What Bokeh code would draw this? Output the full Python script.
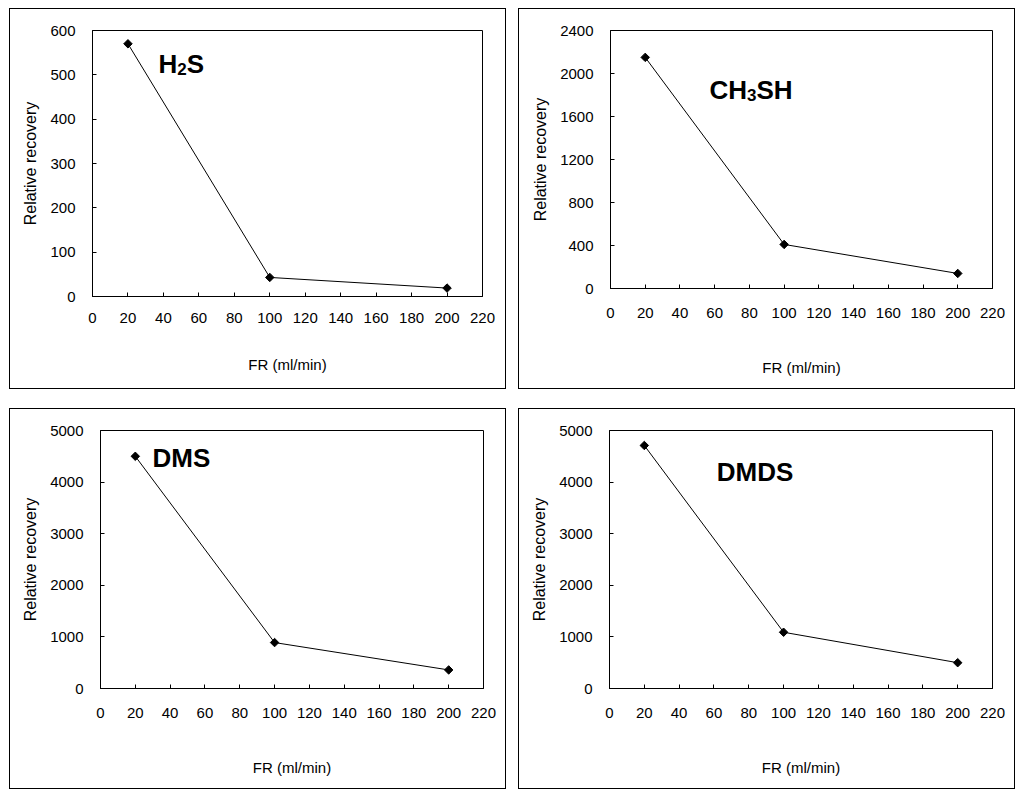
import math
from bokeh.plotting import figure
from bokeh.models import Range1d, FixedTicker, Label, Spacer
from bokeh.layouts import row, column
from bokeh.embed import file_html
from bokeh.resources import INLINE

# ---- data ----
fr = [20, 100, 200]
h2s = [570, 43, 19]
ch3sh = [2150, 410, 140]
dms = [4500, 890, 360]
dmds = [4710, 1090, 500]

x_ticks = list(range(0, 221, 20))
y_ticks_h2s = list(range(0, 601, 100))
y_ticks_ch3sh = list(range(0, 2401, 400))
y_ticks_dms = list(range(0, 5001, 1000))

x_label = "FR (ml/min)"
y_label = "Relative recovery"

FONT = "Liberation Sans"


def make_panel(values, yticks, parts, anchor, borders, xstand):
    bl, br, bt, bb = borders
    p = figure(width=495, height=379, output_backend="svg", toolbar_location=None,
               x_range=Range1d(0, 220), y_range=Range1d(0, yticks[-1]),
               min_border_left=bl, min_border_right=br,
               min_border_top=bt, min_border_bottom=bb)
    p.styles = {"outline": "1.5px solid black", "outline-offset": "0px"}
    p.xgrid.visible = False
    p.ygrid.visible = False
    p.outline_line_color = "black"
    p.outline_line_width = 1
    p.outline_line_alpha = 1
    for ax in (p.xaxis[0], p.yaxis[0]):
        ax.axis_line_color = "black"
        ax.major_tick_line_color = "black"
        ax.major_tick_in = 4
        ax.major_tick_out = 0
        ax.minor_tick_line_color = None
        ax.major_label_text_font = FONT
        ax.major_label_text_font_size = "15px"
        ax.major_label_text_color = "black"
        ax.axis_label_text_font = FONT
        ax.axis_label_text_font_style = "normal"
        ax.axis_label_text_color = "black"
    p.xaxis[0].axis_label_text_font_size = "15px"
    p.yaxis[0].axis_label_text_font_size = "16px"
    p.xaxis[0].ticker = FixedTicker(ticks=x_ticks)
    p.yaxis[0].ticker = FixedTicker(ticks=yticks)
    p.xaxis[0].axis_label = x_label
    p.yaxis[0].axis_label = y_label
    p.xaxis[0].major_label_standoff = xstand[0]
    p.yaxis[0].major_label_standoff = 17
    p.xaxis[0].axis_label_standoff = xstand[1]
    p.yaxis[0].axis_label_standoff = 8

    p.line(fr, values, line_color="black", line_width=1)
    p.scatter(fr, values, marker="square", angle=math.pi / 4, size=6,
              fill_color="black", line_color="black")

    ax_, ay_ = anchor
    base = 9
    off = 0.0
    for txt, sub in parts:
        if sub:
            lab = Label(x=ax_, y=ay_, x_offset=off, y_offset=base - 5, text=txt,
                        text_font=FONT, text_font_size="17px", text_font_style="bold",
                        text_color="black", text_baseline="alphabetic", text_align="left")
            off += 0.556 * 17
        else:
            lab = Label(x=ax_, y=ay_, x_offset=off, y_offset=base, text=txt,
                        text_font=FONT, text_font_size="26px", text_font_style="bold",
                        text_color="black", text_baseline="alphabetic", text_align="left")
            w = sum({"H": 0.722, "S": 0.667, "C": 0.722, "D": 0.722, "M": 0.833}.get(c, 0.6) for c in txt)
            off += w * 26
        p.add_layout(lab)
    return p


p1 = make_panel(h2s, y_ticks_h2s, [("H", False), ("2", True), ("S", False)], (37.2, 505),
                (82, 23, 21, 92), (16, 30))
p2 = make_panel(ch3sh, y_ticks_ch3sh, [("CH", False), ("3", True), ("SH", False)], (57.0, 1767),
                (91, 22, 21, 100), (19, 38))
p3 = make_panel(dms, y_ticks_dms, [("DMS", False)], (29.9, 4283),
                (90, 22, 21, 100), (19, 38))
p4 = make_panel(dmds, y_ticks_dms, [("DMDS", False)], (61.6, 4012),
                (90, 22, 21, 100), (19, 38))

layout = column(
    Spacer(height=9),
    row(Spacer(width=10), column(p1), Spacer(width=14), column(p2)),
    Spacer(height=21),
    row(Spacer(width=10), column(p3), Spacer(width=14), column(p4)),
)

open("out.html", "w").write(file_html(layout, INLINE))
